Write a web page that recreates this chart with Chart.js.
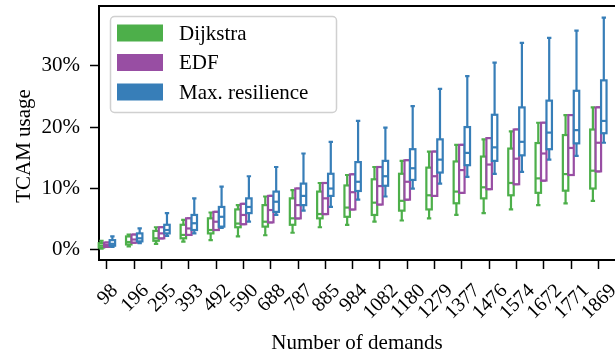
<!DOCTYPE html>
<html>
<head>
<meta charset="utf-8">
<script src="https://cdn.jsdelivr.net/npm/chart.js@4.4.1/dist/chart.umd.min.js"></script>
<style>
  html, body { margin: 0; padding: 0; background: #fff; overflow: hidden; }
</style>
</head>
<body>
<canvas id="chart" width="615" height="356"></canvas>
<script>
// Number of demands (x categories)
const demands = ['98', '196', '295', '393', '492', '590', '688', '787', '885', '984',
  '1082', '1180', '1279', '1377', '1476', '1574', '1672', '1771', '1869'];

// TCAM usage in %, each entry: [whisker low, q1, median, q3, whisker high]
const dijkstra = [
  [0.2, 0.4, 0.7, 1.1, 1.5], [0.6, 0.9, 1.3, 2.2, 2.5], [1.0, 1.5, 1.9, 3.1, 3.7],
  [1.35, 1.9, 2.45, 4.1, 4.9], [1.6, 2.7, 3.25, 5.15, 6.1], [2.2, 3.7, 4.3, 6.6, 7.3],
  [2.4, 3.8, 4.6, 7.3, 8.7], [2.8, 4.1, 5.15, 8.4, 9.75], [3.7, 5.15, 5.85, 9.5, 10.9],
  [4.1, 5.4, 6.9, 10.5, 12.2], [4.6, 5.7, 7.7, 11.5, 13.5], [4.8, 6.4, 8.0, 12.4, 14.5],
  [5.15, 6.6, 8.9, 13.4, 16.0], [5.7, 7.6, 9.5, 14.4, 17.1], [6.0, 8.4, 10.2, 15.2, 18.0],
  [6.6, 8.9, 10.9, 16.5, 19.3], [7.3, 9.3, 11.65, 17.4, 20.7], [7.6, 9.65, 12.35, 18.7, 21.95],
  [8.0, 10.0, 12.9, 19.6, 23.2]
];
const edf = [
  [0.5, 0.5, 0.8, 1.2, 1.2], [1.2, 1.2, 1.7, 2.5, 2.5], [1.9, 1.9, 2.7, 3.7, 3.7],
  [2.45, 2.45, 3.5, 5.15, 5.15], [3.25, 3.25, 4.6, 6.2, 6.2], [4.2, 4.2, 5.7, 7.5, 7.5],
  [4.5, 4.5, 6.5, 8.8, 8.8], [5.15, 5.15, 7.3, 10.0, 10.0], [5.85, 5.85, 8.4, 10.9, 10.9],
  [6.6, 6.6, 9.4, 12.3, 12.3], [7.4, 7.4, 10.4, 13.5, 13.5], [8.2, 8.2, 11.1, 14.6, 14.6],
  [8.8, 8.8, 12.0, 16.0, 16.0], [9.3, 9.3, 13.0, 17.1, 17.1], [9.9, 9.9, 13.9, 18.2, 18.2],
  [10.7, 10.7, 14.85, 19.6, 19.6], [11.3, 11.3, 15.7, 20.7, 20.7], [12.2, 12.2, 16.6, 21.95, 21.95],
  [12.8, 12.8, 17.45, 23.2, 23.2]
];
const maxResilience = [
  [0.5, 0.7, 1.0, 1.6, 2.2], [1.1, 1.4, 1.9, 2.7, 3.5], [2.3, 2.7, 3.25, 4.1, 6.0],
  [2.7, 3.25, 4.35, 5.7, 8.4], [3.6, 3.8, 5.4, 7.0, 10.3], [4.6, 6.0, 7.0, 8.4, 12.0],
  [5.7, 6.2, 7.85, 9.5, 13.5], [6.4, 7.3, 8.8, 10.8, 15.7], [7.0, 8.8, 10.0, 12.4, 17.6],
  [8.2, 9.6, 11.1, 14.3, 21.0], [8.7, 10.45, 12.0, 14.5, 19.9], [10.0, 11.4, 13.3, 16.4, 23.4],
  [10.8, 12.6, 14.7, 18.0, 26.2], [11.9, 13.8, 15.8, 20.0, 28.3], [12.4, 14.5, 16.7, 22.0, 30.5],
  [12.7, 15.4, 17.6, 23.2, 33.7], [14.7, 16.4, 19.1, 24.3, 34.5], [15.3, 17.35, 19.5, 25.9, 35.7],
  [17.45, 19.0, 21.0, 27.6, 37.8]
];

const seriesNames = ['Dijkstra', 'EDF', 'Max. resilience'];
const seriesColors = ['#4daf4a', '#984ea3', '#377eb8'];
const seriesOffsets = [-0.2, 0, 0.2];
const yTicks = [0, 10, 20, 30];

const FONT = '"Liberation Serif", "Times New Roman", serif';
const FS = 21;
const XFS = 20;

// draws whiskers, caps, boxes and medians from each dataset's stats
const boxPlugin = {
  id: 'boxes',
  afterDatasetsDraw(chart) {
    const { ctx, scales: { x, y } } = chart;
    const unit = x.getPixelForValue(1) - x.getPixelForValue(0);
    const half = 0.1 * unit;
    const cap = 0.08 * unit;
    ctx.save();
    ctx.lineWidth = 2.2;
    chart.data.datasets.forEach((ds) => {
      ctx.strokeStyle = ds.borderColor;
      ds.stats.forEach((s, i) => {
        const cx = x.getPixelForValue(i + ds.offset);
        const [lo, q1, med, q3, hi] = s.map((v) => y.getPixelForValue(v));
        ctx.beginPath();
        ctx.moveTo(cx, q1); ctx.lineTo(cx, lo);
        ctx.moveTo(cx, q3); ctx.lineTo(cx, hi);
        ctx.moveTo(cx - cap, lo); ctx.lineTo(cx + cap, lo);
        ctx.moveTo(cx - cap, hi); ctx.lineTo(cx + cap, hi);
        ctx.stroke();
        ctx.fillStyle = '#fff';
        ctx.fillRect(cx - half, q3, 2 * half, q1 - q3);
        ctx.strokeRect(cx - half, q3, 2 * half, q1 - q3);
        ctx.beginPath();
        ctx.moveTo(cx - half, med); ctx.lineTo(cx + half, med);
        ctx.stroke();
      });
    });
    ctx.restore();
  }
};

// top spine, rotated x labels (centred under ticks), y title and legend box
const extrasPlugin = {
  id: 'extras',
  afterDraw(chart) {
    const { ctx, chartArea, scales: { x } } = chart;
    ctx.save();
    ctx.strokeStyle = '#000';
    ctx.lineWidth = 2;
    ctx.beginPath();
    ctx.moveTo(chartArea.left - 1, chartArea.top);
    ctx.lineTo(chartArea.right, chartArea.top);
    ctx.stroke();

    ctx.fillStyle = '#000';
    ctx.font = XFS + 'px ' + FONT;
    ctx.textAlign = 'center';
    ctx.textBaseline = 'alphabetic';
    const inkH = 0.66 * XFS;
    demands.forEach((label, i) => {
      const cx = x.getPixelForValue(i);
      const len = ctx.measureText(label).width;
      const ext = (len + inkH) / Math.SQRT2;
      ctx.save();
      ctx.translate(cx, chartArea.bottom + 22 + ext / 2);
      ctx.rotate(-Math.PI / 4);
      ctx.fillText(label, 0, inkH / 2);
      ctx.restore();
    });

    ctx.font = FS + 'px ' + FONT;
    ctx.translate(24, 146);
    ctx.rotate(-Math.PI / 2);
    ctx.textAlign = 'center';
    ctx.textBaseline = 'middle';
    ctx.fillText('TCAM usage', 0, 0);
    ctx.restore();

    // legend
    ctx.save();
    const lx = 110.5, ly = 16.5, lw = 226, lh = 96, r = 4;
    ctx.beginPath();
    ctx.moveTo(lx + r, ly);
    ctx.arcTo(lx + lw, ly, lx + lw, ly + lh, r);
    ctx.arcTo(lx + lw, ly + lh, lx, ly + lh, r);
    ctx.arcTo(lx, ly + lh, lx, ly, r);
    ctx.arcTo(lx, ly, lx + lw, ly, r);
    ctx.closePath();
    ctx.fillStyle = 'rgba(255,255,255,0.85)';
    ctx.fill();
    ctx.strokeStyle = '#d0d0d0';
    ctx.lineWidth = 1.5;
    ctx.stroke();
    ctx.font = FS + 'px ' + FONT;
    ctx.textBaseline = 'middle';
    ctx.textAlign = 'left';
    chart.data.datasets.forEach((ds, k) => {
      const cy = 33 + k * 29.5;
      ctx.fillStyle = ds.borderColor;
      ctx.fillRect(117, cy - 8.5, 46, 17);
      ctx.fillStyle = '#000';
      ctx.fillText(ds.label, 179, cy + 1);
    });
    ctx.restore();
  }
};

const allStats = [dijkstra, edf, maxResilience];
const datasets = allStats.map((stats, k) => ({
  label: seriesNames[k],
  data: stats.map((s, i) => ({ x: i + seriesOffsets[k], y: s[2] })),
  stats: stats,
  offset: seriesOffsets[k],
  borderColor: seriesColors[k],
  backgroundColor: seriesColors[k],
  pointRadius: 0,
  showLine: false
}));

new Chart(document.getElementById('chart'), {
  type: 'scatter',
  data: { datasets },
  options: {
    responsive: false,
    animation: false,
    devicePixelRatio: 1,
    layout: { padding: { top: 6, left: 0, right: 0, bottom: 0 } },
    plugins: { legend: { display: false }, tooltip: { enabled: false } },
    scales: {
      x: {
        type: 'linear',
        min: -0.29,
        max: 18.61,
        afterBuildTicks: (s) => { s.ticks = demands.map((_, i) => ({ value: i })); },
        afterFit: (s) => { s.height = 96; s.paddingLeft = 0; s.paddingRight = 0; },
        grid: { drawOnChartArea: false, color: '#000', tickLength: 9, tickWidth: 1.5 },
        border: { color: '#000', width: 2 },
        ticks: { display: false },
        title: {
          display: true,
          text: 'Number of demands',
          color: '#000',
          font: { family: FONT, size: FS },
          padding: { top: 0, bottom: 0 }
        }
      },
      y: {
        min: -1.63,
        max: 39.7,
        afterBuildTicks: (s) => { s.ticks = yTicks.map((v) => ({ value: v })); },
        afterFit: (s) => { s.width = 99; s.paddingTop = 0; s.paddingBottom = 0; },
        grid: { drawOnChartArea: false, color: '#000', tickLength: 9, tickWidth: 1.5 },
        border: { color: '#000', width: 2 },
        ticks: {
          padding: 10,
          color: '#000',
          font: { family: FONT, size: FS },
          callback: (v) => v + '%'
        }
      }
    }
  },
  plugins: [boxPlugin, extrasPlugin]
});
</script>
</body>
</html>
